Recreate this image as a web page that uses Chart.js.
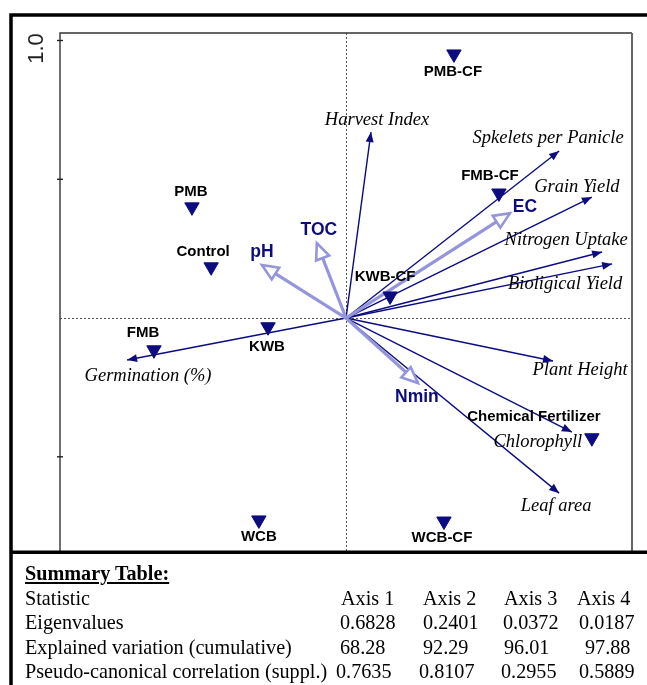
<!DOCTYPE html>
<html>
<head>
<meta charset="utf-8">
<script src="https://cdn.jsdelivr.net/npm/chart.js@4.4.1/dist/chart.umd.min.js"></script>
<style>
  html, body { margin: 0; padding: 0; background: #fff; }
  #wrap { position: absolute; left: 0; top: 0; width: 647px; height: 685px; }
  .t { position: absolute; font-family: "Liberation Serif", "Times New Roman", serif; font-size: 20.2px;
       line-height: 24px; color: #000; white-space: nowrap; z-index: 2; }
  .t.title { font-weight: bold; text-decoration: underline; }
</style>
</head>
<body>
<div id="wrap"><canvas id="c"></canvas></div>
<div id="table"></div>
<script>
// Sample scores (treatments), plotted as down-pointing triangles
const sampleNames = ['PMB-CF', 'PMB', 'Control', 'FMB', 'KWB', 'KWB-CF', 'FMB-CF', 'Chemical Fertilizer', 'WCB', 'WCB-CF'];
const sampleX = [0.389, -0.555, -0.486, -0.692, -0.281, 0.159, 0.551, 0.886, -0.314, 0.353];
const sampleY = [0.951, 0.400, 0.184, -0.115, -0.032, 0.079, 0.450, -0.432, -0.728, -0.732];

// Response variables (crop traits)
const responseNames = ['Harvest Index', 'Spkelets per Panicle', 'Grain Yield', 'Nitrogen Uptake', 'Bioligical Yield',
                       'Plant Height', 'Chlorophyll', 'Leaf area', 'Germination (%)'];
const responseX = [0.090, 0.768, 0.886, 0.923, 0.959, 0.746, 0.814, 0.768, -0.789];
const responseY = [0.670, 0.602, 0.436, 0.238, 0.195, -0.155, -0.411, -0.631, -0.151];

// Supplementary soil variables
const envNames = ['pH', 'TOC', 'EC', 'Nmin'];
const envX = [-0.303, -0.105, 0.591, 0.259];
const envY = [0.191, 0.270, 0.378, -0.234];

// Vertical axis ticks
const yTickValues = [1.0, 0.5, -0.5];
const yTickLabel = '1.0';

// Summary table
const axisNames = ['Axis 1', 'Axis 2', 'Axis 3', 'Axis 4'];
const statNames = ['Eigenvalues', 'Explained variation (cumulative)', 'Pseudo-canonical correlation (suppl.)'];
const eigenvalues = ['0.6828', '0.2401', '0.0372', '0.0187'];
const explainedCum = ['68.28', '92.29', '96.01', '97.88'];
const pseudoCorr = ['0.7635', '0.8107', '0.2955', '0.5889'];

// ---- label placement (pixel offsets from each mark) ----
const sampleLabelOffset = {
  'PMB-CF': [-1, 18], 'PMB': [-1, -15], 'Control': [-8, -15], 'FMB': [-11, -17], 'KWB': [-1, 20],
  'KWB-CF': [-5, -19], 'FMB-CF': [-9, -17], 'Chemical Fertilizer': [-58, -21], 'WCB': [0, 17], 'WCB-CF': [-2, 17]
};
const responseLabelOffset = {
  'Harvest Index': [6, -12], 'Spkelets per Panicle': [-11, -13], 'Grain Yield': [-15, -10],
  'Nitrogen Uptake': [-36, -12], 'Bioligical Yield': [-47, 20], 'Plant Height': [27, 9],
  'Chlorophyll': [-34, 10], 'Leaf area': [-3, 13], 'Germination (%)': [21, 16]
};
const envLabelOffset = { 'pH': [0, -13], 'TOC': [2, -13], 'EC': [15, -6], 'Nmin': [-1, 14] };

const NAVY = '#0c0c80';
const LAV = '#9595dc';
const SANS = '"Liberation Sans", Arial, sans-serif';
const SERIF = '"Liberation Serif", "Times New Roman", serif';

function arrowHead(ctx, x0, y0, x1, y1, len, half) {
  const a = Math.atan2(y1 - y0, x1 - x0);
  const bx = x1 - len * Math.cos(a), by = y1 - len * Math.sin(a);
  const px = -Math.sin(a) * half, py = Math.cos(a) * half;
  ctx.beginPath();
  ctx.moveTo(x1, y1);
  ctx.lineTo(bx + px, by + py);
  ctx.lineTo(bx - px, by - py);
  ctx.closePath();
}

const biplot = {
  id: 'biplot',
  beforeDatasetsDraw(chart) {
    const { ctx, chartArea: a, scales: { x, y } } = chart;
    const x0 = Math.round(x.getPixelForValue(0)) + 0.5;
    const y0 = Math.round(y.getPixelForValue(0)) + 0.5;
    ctx.save();
    ctx.strokeStyle = '#555';
    ctx.lineWidth = 1;
    ctx.setLineDash([2, 2]);
    ctx.beginPath();
    ctx.moveTo(x0, a.top); ctx.lineTo(x0, a.bottom);
    ctx.moveTo(a.left, y0); ctx.lineTo(a.right, y0);
    ctx.stroke();
    ctx.restore();
  },
  afterDatasetsDraw(chart) {
    const { ctx, scales: { x, y } } = chart;
    const ox = x.getPixelForValue(0), oy = y.getPixelForValue(0);
    ctx.save();
    // filled heads for response arrows
    ctx.fillStyle = NAVY;
    responseNames.forEach((n, i) => {
      arrowHead(ctx, ox, oy, x.getPixelForValue(responseX[i]), y.getPixelForValue(responseY[i]), 10, 4);
      ctx.fill();
    });
    // hollow heads for soil variables
    ctx.strokeStyle = LAV;
    ctx.fillStyle = '#fff';
    ctx.lineWidth = 2.6;
    ctx.lineJoin = 'miter';
    envNames.forEach((n, i) => {
      arrowHead(ctx, ox, oy, x.getPixelForValue(envX[i]), y.getPixelForValue(envY[i]), 16, 7);
      ctx.fill();
      ctx.stroke();
    });
    ctx.textAlign = 'center';
    ctx.textBaseline = 'middle';
    // response labels
    ctx.fillStyle = '#000';
    ctx.font = 'italic 18.5px ' + SERIF;
    responseNames.forEach((n, i) => {
      const o = responseLabelOffset[n];
      ctx.fillText(n, x.getPixelForValue(responseX[i]) + o[0], y.getPixelForValue(responseY[i]) + o[1]);
    });
    // soil variable labels
    ctx.fillStyle = NAVY;
    ctx.font = 'bold 17.5px ' + SANS;
    envNames.forEach((n, i) => {
      const o = envLabelOffset[n];
      ctx.fillText(n, x.getPixelForValue(envX[i]) + o[0], y.getPixelForValue(envY[i]) + o[1]);
    });
    // sample labels
    ctx.fillStyle = '#000';
    ctx.font = 'bold 15px ' + SANS;
    sampleNames.forEach((n, i) => {
      const o = sampleLabelOffset[n];
      ctx.fillText(n, x.getPixelForValue(sampleX[i]) + o[0], y.getPixelForValue(sampleY[i]) + o[1]);
    });
    ctx.restore();
  },
  afterDraw(chart) {
    const { ctx, chartArea: a, scales: { y } } = chart;
    ctx.save();
    // plot frame
    ctx.strokeStyle = '#333';
    ctx.lineWidth = 1.4;
    ctx.beginPath();
    ctx.moveTo(a.left, a.bottom); ctx.lineTo(a.left, a.top); ctx.lineTo(a.right, a.top);
    ctx.stroke();
    ctx.strokeStyle = '#666';
    ctx.lineWidth = 2;
    ctx.beginPath();
    ctx.moveTo(a.right, a.top); ctx.lineTo(a.right, a.bottom);
    ctx.stroke();
    // y ticks
    ctx.strokeStyle = '#222';
    ctx.lineWidth = 1.4;
    yTickValues.forEach(v => {
      const py = y.getPixelForValue(v);
      ctx.beginPath(); ctx.moveTo(a.left - 3, py); ctx.lineTo(a.left + 3, py); ctx.stroke();
    });
    // rotated tick label
    ctx.fillStyle = '#222';
    ctx.font = '22px ' + SANS;
    ctx.textAlign = 'center';
    ctx.textBaseline = 'middle';
    ctx.translate(a.left - 23, y.getPixelForValue(1.0) + 8);
    ctx.rotate(-Math.PI / 2);
    ctx.fillText(yTickLabel, 0, 0);
    ctx.setTransform(1, 0, 0, 1, 0, 0);
    // outer border
    ctx.strokeStyle = '#000';
    ctx.lineWidth = 3.5;
    ctx.beginPath();
    ctx.moveTo(647, 15); ctx.lineTo(11, 15); ctx.lineTo(11, 685);
    ctx.moveTo(9.5, a.bottom + 0.3); ctx.lineTo(647, a.bottom + 0.3);
    ctx.stroke();
    ctx.restore();
  }
};

const datasets = [];
datasets.push({
  label: 'Samples',
  data: sampleX.map((v, i) => ({ x: v, y: sampleY[i] })),
  pointStyle: 'triangle',
  rotation: 180,
  radius: 8.3,
  backgroundColor: NAVY,
  borderColor: NAVY,
  borderWidth: 1,
  showLine: false,
  order: 0
});
responseNames.forEach((n, i) => datasets.push({
  label: n,
  data: [{ x: 0, y: 0 }, { x: responseX[i], y: responseY[i] }],
  showLine: true,
  borderColor: NAVY,
  borderWidth: 1.4,
  pointRadius: 0,
  order: 2
}));
envNames.forEach((n, i) => datasets.push({
  label: n,
  data: [{ x: 0, y: 0 }, { x: envX[i], y: envY[i] }],
  showLine: true,
  borderColor: LAV,
  borderWidth: 3.2,
  pointRadius: 0,
  order: 1
}));

new Chart(document.getElementById('c'), {
  type: 'scatter',
  data: { datasets },
  options: {
    responsive: true,
    maintainAspectRatio: false,
    animation: false,
    events: [],
    layout: { padding: { left: 60, top: 33, right: 15, bottom: 133 } },
    plugins: { legend: { display: false }, tooltip: { enabled: false } },
    scales: {
      x: { type: 'linear', min: -1.0306, max: 1.0306, display: false },
      y: { type: 'linear', min: -0.843, max: 1.027, display: false }
    }
  },
  plugins: [biplot]
});

// ---- summary table ----
const table = document.getElementById('table');
function put(text, left, midY, cls) {
  const d = document.createElement('div');
  d.className = 't' + (cls ? ' ' + cls : '');
  d.textContent = text;
  d.style.left = left + 'px';
  d.style.top = (midY - 12) + 'px';
  table.appendChild(d);
}
const rowMid = [573, 597.5, 622, 646.5, 671];
const colLeft = [
  [341, 423, 504, 577],
  [340, 423, 503, 579],
  [340, 423, 504, 585],
  [336, 419, 501, 579]
];
put('Summary Table:', 25, rowMid[0], 'title');
put('Statistic', 25, rowMid[1]);
axisNames.forEach((s, j) => put(s, colLeft[0][j], rowMid[1]));
[eigenvalues, explainedCum, pseudoCorr].forEach((row, r) => {
  put(statNames[r], 25, rowMid[r + 2]);
  row.forEach((s, j) => put(s, colLeft[r + 1][j], rowMid[r + 2]));
});
</script>
</body>
</html>
